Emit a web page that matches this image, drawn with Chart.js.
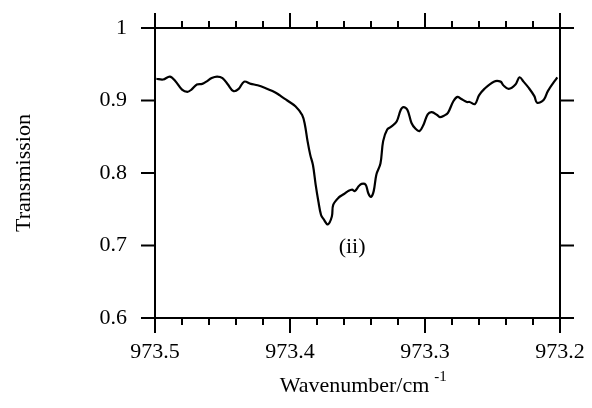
<!DOCTYPE html>
<html>
<head>
<meta charset="utf-8">
<script src="https://cdn.jsdelivr.net/npm/chart.js@4"></script>
<style>
  html, body { margin: 0; padding: 0; background: #fff; }
  #wrap { width: 592px; height: 408px; }
</style>
</head>
<body>
<div id="wrap"><canvas id="spectrum"></canvas></div>
<script>
// spectrum: wavenumber (cm-1) and transmission
const wavenumber = [
  973.499, 973.494, 973.489, 973.485, 973.480, 973.476, 973.473, 973.469, 973.465, 973.462,
  973.458, 973.454, 973.450, 973.446, 973.442, 973.438, 973.434, 973.429, 973.424, 973.418,
  973.413, 973.409, 973.406, 973.402, 973.396, 973.391, 973.389, 973.387, 973.385, 973.383,
  973.381, 973.379, 973.377, 973.375, 973.372, 973.369, 973.368, 973.364, 973.360, 973.357,
  973.354, 973.352, 973.349, 973.347, 973.344, 973.342, 973.340, 973.338, 973.336, 973.333,
  973.331, 973.328, 973.325, 973.321, 973.318, 973.316, 973.313, 973.310, 973.307, 973.304,
  973.301, 973.298, 973.295, 973.291, 973.289, 973.286, 973.283, 973.279, 973.276, 973.273,
  973.269, 973.267, 973.263, 973.260, 973.256, 973.249, 973.244, 973.242, 973.238, 973.233,
  973.230, 973.227, 973.223, 973.219, 973.217, 973.212, 973.209, 973.202
];
const transmission = [
  0.930, 0.929, 0.933, 0.927, 0.915, 0.912, 0.915, 0.922, 0.923, 0.926,
  0.931, 0.933, 0.931, 0.922, 0.913, 0.916, 0.926, 0.923, 0.921, 0.917,
  0.913, 0.909, 0.905, 0.900, 0.892, 0.880, 0.867, 0.844, 0.825, 0.811,
  0.784, 0.761, 0.742, 0.736, 0.729, 0.740, 0.756, 0.766, 0.771, 0.775,
  0.777, 0.775, 0.782, 0.785, 0.784, 0.772, 0.767, 0.775, 0.798, 0.813,
  0.844, 0.860, 0.864, 0.871, 0.887, 0.891, 0.887, 0.869, 0.861, 0.858,
  0.867, 0.881, 0.884, 0.880, 0.877, 0.879, 0.883, 0.899, 0.905, 0.902,
  0.898, 0.898, 0.895, 0.907, 0.916, 0.926, 0.926, 0.921, 0.916, 0.922,
  0.932, 0.926, 0.917, 0.906, 0.897, 0.901, 0.913, 0.932
];

const xMajorTicks = [973.5, 973.4, 973.3, 973.2];
const xMinorTicks = [973.48, 973.46, 973.44, 973.42, 973.38, 973.36, 973.34, 973.32,
                     973.28, 973.26, 973.24, 973.22];
const yTicks = [1, 0.9, 0.8, 0.7, 0.6];
const peakLabel = { text: "(ii)", x: 973.354, y: 0.698 };
const xTitle = "Wavenumber/cm";
const xTitleSup = "-1";
const yTitle = "Transmission";

const serif = "'Liberation Serif', 'Times New Roman', serif";
Chart.defaults.font.family = serif;
Chart.defaults.font.size = 22;
Chart.defaults.color = "#000";

// box, outward ticks on all four sides, x title with superscript, peak label
const frameTicks = {
  id: "frameTicks",
  afterDraw(chart) {
    const { ctx, chartArea: a, scales: { x, y } } = chart;
    ctx.save();
    ctx.strokeStyle = "#000";
    ctx.lineWidth = 2;
    ctx.lineCap = "butt";
    ctx.beginPath();
    ctx.rect(a.left, a.top, a.right - a.left, a.bottom - a.top);
    yTicks.forEach(v => {
      const py = y.getPixelForValue(v);
      ctx.moveTo(a.left - 14, py); ctx.lineTo(a.left, py);
      ctx.moveTo(a.right, py); ctx.lineTo(a.right + 14, py);
    });
    xMajorTicks.forEach(v => {
      const px = x.getPixelForValue(v);
      ctx.moveTo(px, a.bottom); ctx.lineTo(px, a.bottom + 15);
      ctx.moveTo(px, a.top - 15); ctx.lineTo(px, a.top);
    });
    xMinorTicks.forEach(v => {
      const px = x.getPixelForValue(v);
      ctx.moveTo(px, a.bottom); ctx.lineTo(px, a.bottom + 7);
      ctx.moveTo(px, a.top - 7); ctx.lineTo(px, a.top);
    });
    ctx.stroke();

    ctx.fillStyle = "#000";
    ctx.textBaseline = "alphabetic";
    ctx.font = "22px " + serif;
    const w1 = ctx.measureText(xTitle).width;
    const cx = (a.left + a.right) / 2;
    const x0 = cx - w1 / 2 - 3;
    ctx.textAlign = "left";
    ctx.fillText(xTitle, x0, 392);
    ctx.font = "15px " + serif;
    ctx.fillText(xTitleSup, x0 + w1 + 5, 381);

    ctx.font = "22px " + serif;
    ctx.textAlign = "center";
    ctx.textBaseline = "middle";
    ctx.fillText(peakLabel.text, x.getPixelForValue(peakLabel.x), y.getPixelForValue(peakLabel.y));
    ctx.restore();
  }
};

new Chart(document.getElementById("spectrum"), {
  type: "line",
  data: {
    datasets: [{
      data: wavenumber.map((w, i) => ({ x: w, y: transmission[i] })),
      borderColor: "#000",
      borderWidth: 2.2,
      pointRadius: 0,
      tension: 0.35,
      fill: false
    }]
  },
  options: {
    animation: false,
    responsive: true,
    maintainAspectRatio: false,
    layout: { padding: { left: 0, top: 28, right: 32, bottom: 0 } },
    plugins: { legend: { display: false }, tooltip: { enabled: false } },
    scales: {
      x: {
        type: "linear",
        reverse: true,
        min: 973.2,
        max: 973.5,
        afterBuildTicks: s => { s.ticks = xMajorTicks.map(v => ({ value: v })); },
        afterFit: s => { s.height = 90; s.paddingLeft = 0; s.paddingRight = 0; },
        ticks: { padding: 21, maxRotation: 0, autoSkip: false, callback: v => v.toFixed(1) },
        grid: { display: false, drawTicks: false },
        border: { display: false }
      },
      y: {
        min: 0.6,
        max: 1,
        afterBuildTicks: s => { s.ticks = yTicks.map(v => ({ value: v })); },
        afterFit: s => { s.width = 155; s.paddingTop = 0; s.paddingBottom = 0; },
        ticks: { padding: 28, callback: v => Math.abs(v - 1) < 1e-9 ? "1" : v.toFixed(1) },
        grid: { display: false, drawTicks: false },
        border: { display: false },
        title: { display: true, text: yTitle, font: { size: 22 }, padding: { top: 11, bottom: 0 } }
      }
    }
  },
  plugins: [frameTicks]
});
</script>
</body>
</html>
